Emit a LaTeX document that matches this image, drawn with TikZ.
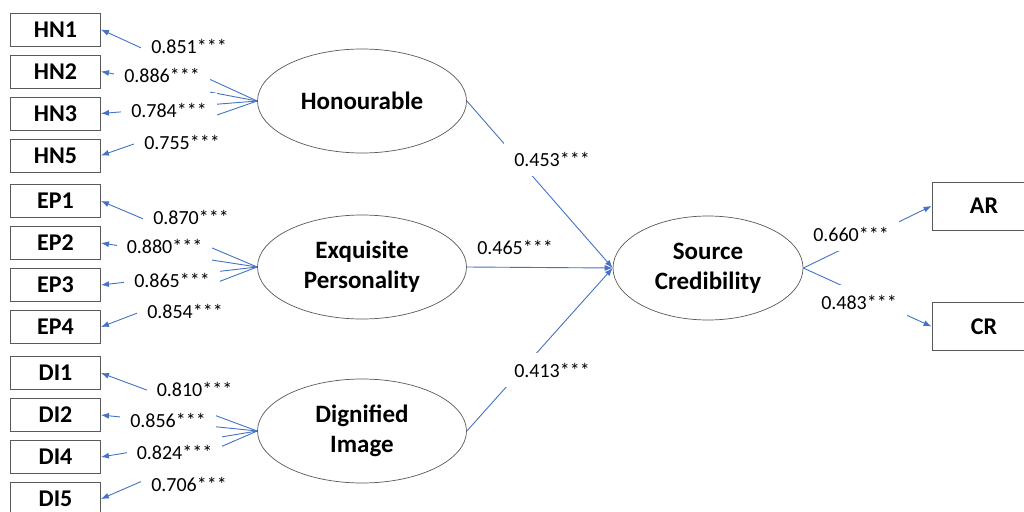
\documentclass[tikz,border=0pt]{standalone}
\usepackage{fontspec}
\setmainfont{Carlito}
\usetikzlibrary{shapes.geometric,arrows.meta,calc}
\definecolor{linkblue}{RGB}{68,114,196}
\tikzset{
 ind/.style={draw=black!65,line width=0.9pt,minimum width=90pt,minimum height=33pt,inner sep=0pt,font=\bfseries\fontsize{24}{28}\selectfont},
 outbox/.style={ind,minimum width=104pt,minimum height=48pt},
 lat/.style={ellipse,draw=black!65,line width=0.7pt,minimum width=209pt,minimum height=104pt,inner sep=0pt,align=center,font=\bfseries\fontsize{25}{30}\selectfont},
 link/.style={linkblue,line width=0.9pt,-{Latex[length=8pt,width=6pt]}},
 coef/.style={fill=white,inner xsep=10pt,inner ysep=10pt,font=\fontsize{20}{24}\selectfont},
}
\begin{document}
\begin{tikzpicture}[x=1pt,y=-1pt]
\useasboundingbox (0,0) rectangle (1024,511);
\clip (0,0) rectangle (1024,511);
\fill[white] (0,0) rectangle (1024,511);
% indicators
\node[ind] (hn1) at (55.5,29.5) {HN1};
\node[ind] (hn2) at (55.5,71.5) {HN2};
\node[ind] (hn3) at (55.5,113.5) {HN3};
\node[ind] (hn5) at (55.5,155.5) {HN5};
\node[ind] (ep1) at (55.5,201) {EP1};
\node[ind] (ep2) at (55.5,243) {EP2};
\node[ind] (ep3) at (55.5,285) {EP3};
\node[ind] (ep4) at (55.5,327) {EP4};
\node[ind] (di1) at (55.5,373) {DI1};
\node[ind] (di2) at (55.5,415) {DI2};
\node[ind] (di4) at (55.5,457) {DI4};
\node[ind] (di5) at (55.5,499) {DI5};
% latent variables
\node[lat] (hon) at (362,101) {Honourable};
\node[lat] (exq) at (362,267) {Exquisite\\Personality};
\node[lat] (dig) at (362,431) {Dignified\\Image};
\node[lat,minimum width=190pt] (sc) at (708,268) {Source\\Credibility};
% outcomes
\node[outbox] (ar) at (984,206) {AR};
\node[outbox] (cr) at (984,326.5) {CR};
% connectors
\foreach \e/\b in {hon/hn1,hon/hn2,hon/hn3,hon/hn5,exq/ep1,exq/ep2,exq/ep3,exq/ep4,dig/di1,dig/di2,dig/di4,dig/di5}
  \draw[link] (\e.west) -- (\b.east);
\draw[link] (hon.east) -- (sc.west);
\draw[link] (exq.east) -- (sc.west);
\draw[link] (dig.east) -- (sc.west);
\draw[link] (sc.east) -- (ar.west);
\draw[link] (sc.east) -- (cr.west);
% coefficients
\node[coef] (c1) at (189,46) {0.851***};
\node[coef] (c2) at (162,75.5) {0.886***};
\node[coef] (c3) at (169,110.5) {0.784***};
\node[coef] (c4) at (182,142) {0.755***};
\node[coef] (c5) at (191,217.5) {0.870***};
\node[coef] (c6) at (164.5,246.5) {0.880***};
\node[coef] (c7) at (172,280.5) {0.865***};
\node[coef] (c8) at (185,311.5) {0.854***};
\node[coef] (c9) at (194.5,389.5) {0.810***};
\node[coef] (c10) at (168,420) {0.856***};
\node[coef] (c11) at (174.5,452.5) {0.824***};
\node[coef] (c12) at (189,484.5) {0.706***};
\node[coef] (s1) at (552,159) {0.453***};
\node[coef,inner ysep=6pt] (s2) at (515,247.5) {0.465***};
\node[coef] (s3) at (552,370) {0.413***};
\node[coef] (s4) at (851,234) {0.660***};
\node[coef] (s5) at (859,302) {0.483***};
\end{tikzpicture}
\end{document}
